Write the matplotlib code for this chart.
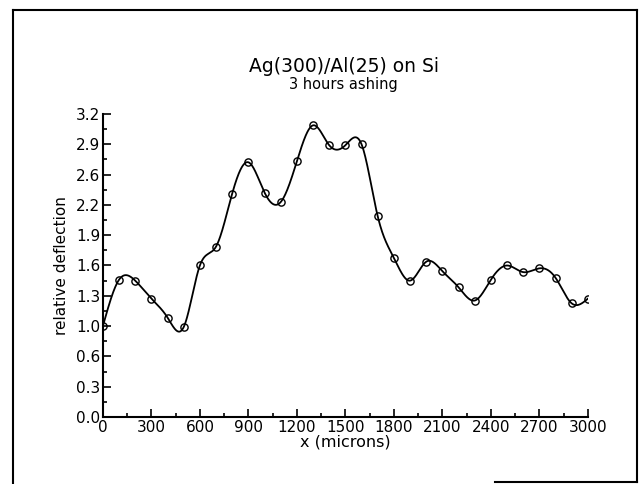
import numpy as np
import matplotlib
matplotlib.use("Agg")
import matplotlib.pyplot as plt
from matplotlib.lines import Line2D

# position along the sample (microns) and measured relative deflection
x_um = [0, 100, 200, 300, 400, 500, 600, 700, 800, 900, 1000,
        1100, 1200, 1300, 1400, 1500, 1600, 1700, 1800, 1900, 2000,
        2100, 2200, 2300, 2400, 2500, 2600, 2700, 2800, 2900, 3000]
deflection = [0.96, 1.45, 1.44, 1.25, 1.05, 0.95, 1.60, 1.80, 2.36, 2.69, 2.37,
              2.27, 2.70, 3.08, 2.87, 2.87, 2.88, 2.12, 1.68, 1.44, 1.64,
              1.54, 1.37, 1.23, 1.45, 1.60, 1.53, 1.57, 1.47, 1.20, 1.25]

x_ticks = [0, 300, 600, 900, 1200, 1500, 1800, 2100, 2400, 2700, 3000]
y_ticks = [0.0, 0.32, 0.64, 0.96, 1.28, 1.60, 1.92, 2.24, 2.56, 2.88, 3.20]
y_tick_labels = ["0.0", "0.3", "0.6", "1.0", "1.3", "1.6", "1.9", "2.2", "2.6", "2.9", "3.2"]


def natural_spline(xs, ys, n=1500):
    # smooth curve through the measured points (natural cubic spline)
    xs = np.asarray(xs, float)
    ys = np.asarray(ys, float)
    k = len(xs)
    h = np.diff(xs)
    A = np.zeros((k, k))
    b = np.zeros(k)
    A[0, 0] = A[-1, -1] = 1
    for i in range(1, k - 1):
        A[i, i - 1] = h[i - 1]
        A[i, i] = 2 * (h[i - 1] + h[i])
        A[i, i + 1] = h[i]
        b[i] = 6 * ((ys[i + 1] - ys[i]) / h[i] - (ys[i] - ys[i - 1]) / h[i - 1])
    m = np.linalg.solve(A, b)
    xx = np.linspace(xs[0], xs[-1], n)
    j = np.clip(np.searchsorted(xs, xx) - 1, 0, k - 2)
    t = xx - xs[j]
    hj = h[j]
    a = ys[j]
    bb = (ys[j + 1] - ys[j]) / hj - hj * (2 * m[j] + m[j + 1]) / 6
    c = m[j] / 2
    d = (m[j + 1] - m[j]) / (6 * hj)
    return xx, a + bb * t + c * t ** 2 + d * t ** 3


plt.rcParams["font.family"] = "DejaVu Sans"

fig = plt.figure(figsize=(6.39, 4.84), dpi=100)
ax = fig.add_axes([0.161, 0.1384, 0.759, 0.6261])

xs, ys = natural_spline(x_um, deflection)
ax.plot(xs, ys, color="black", lw=1.3)
ax.plot(x_um, deflection, "o", ms=5.2, mfc="none", mec="black", mew=1.0)

ax.set_xlim(0, 3000)
ax.set_ylim(0, 3.2)
ax.set_xticks(x_ticks)
ax.set_xticks(np.arange(150, 3000, 300), minor=True)
ax.set_yticks(y_ticks)
ax.set_yticklabels(y_tick_labels)
ax.set_yticks(np.arange(0.16, 3.2, 0.32), minor=True)
ax.tick_params(which="both", direction="in", color="black", width=1.2)
ax.tick_params(which="major", length=6, labelsize=11, pad=2)
ax.tick_params(which="minor", length=3)
for s in ["top", "right"]:
    ax.spines[s].set_visible(False)
for s in ["left", "bottom"]:
    ax.spines[s].set_linewidth(1.5)

ax.set_xlabel("x (microns)", fontsize=11.5, labelpad=0)
ax.set_ylabel("relative deflection", fontsize=11, labelpad=5)

fig.text(0.538, 0.851, "Ag(300)/Al(25) on Si", ha="center", va="baseline", fontsize=13.5)
fig.text(0.538, 0.816, "3 hours ashing", ha="center", va="baseline", fontsize=10.5)

# scanned page frame
W, H = 639, 484
frame = [((13, 637), (10, 10)), ((13, 13), (10, 484)), ((637, 637), (10, 482)),
         ((495, 637), (482, 482))]
for (px, py) in frame:
    fig.add_artist(Line2D([px[0] / W, px[1] / W], [1 - py[0] / H, 1 - py[1] / H],
                          color="black", lw=1.5))

fig.savefig("out.png", dpi=100)
